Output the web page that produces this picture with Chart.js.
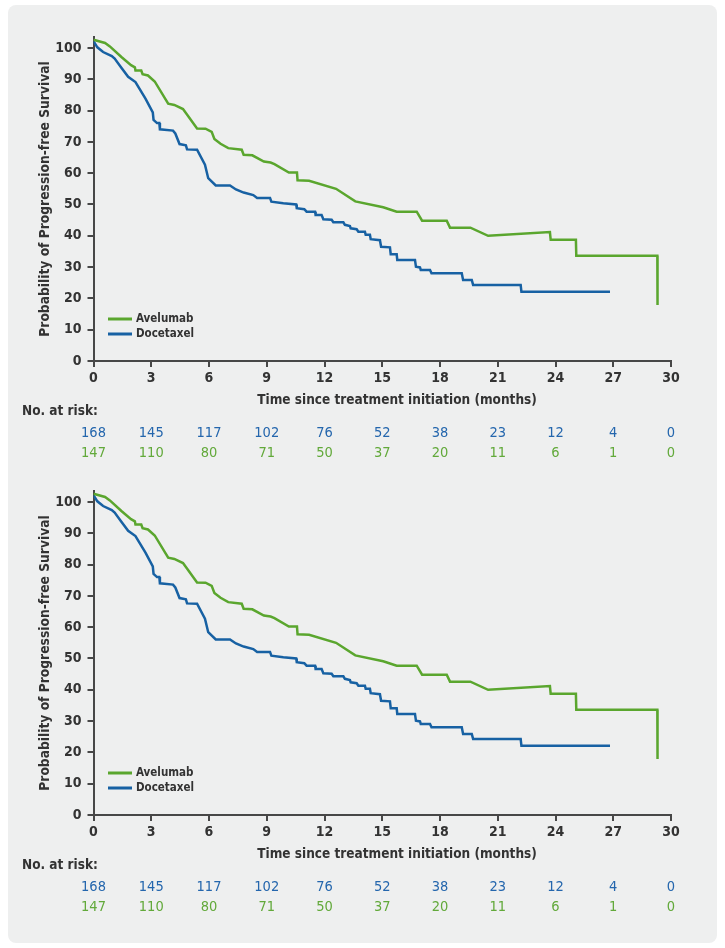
<!DOCTYPE html>
<html>
<head>
<meta charset="utf-8">
<script src="https://cdn.jsdelivr.net/npm/chart.js@4.4.1/dist/chart.umd.min.js"></script>
<style>
html,body{margin:0;padding:0;background:#fff;}
#panel{position:absolute;left:8px;top:5px;width:709px;height:938px;background:#eeefef;border-radius:8px;}
.wrap{position:absolute;left:0;width:725px;height:470px;}
</style>
</head>
<body>
<div id="panel"></div>
<div class="wrap" style="top:0"><canvas id="km1"></canvas></div>
<div class="wrap" style="top:454px"><canvas id="km2"></canvas></div>
<script>
// KM curves (months, % PFS)
const avelumabTime = [0,0.6,0.85,1.45,1.95,2.15,2.18,2.48,2.55,2.83,3.18,3.88,4.2,4.65,5.38,5.82,6.14,6.28,6.6,7.0,7.7,7.8,8.25,8.85,9.2,9.4,10.15,10.57,10.6,11.2,12.6,13.6,15.05,15.75,16.79,17.07,18.35,18.52,19.58,20.5,23.71,23.75,25.06,25.08,29.29,29.3];
const avelumabPfs  = [102.6,101.6,100.5,97.1,94.5,93.8,92.8,92.8,91.6,91.2,89.3,82.2,81.8,80.5,74.3,74.2,73.2,70.9,69.4,68,67.5,65.9,65.7,63.7,63.4,62.9,60.2,60.2,57.7,57.6,55,51,49.1,47.7,47.7,44.8,44.8,42.6,42.6,40,41.2,38.7,38.7,33.6,33.6,17.9];

const docetaxelTime = [0,0.2,0.5,0.95,1.1,1.4,1.8,2.18,2.7,3.08,3.12,3.3,3.42,3.45,4.13,4.25,4.47,4.8,4.86,5.38,5.79,5.96,6.35,7.09,7.4,7.8,8.3,8.5,9.17,9.24,9.86,10.53,10.56,10.95,11.07,11.51,11.54,11.85,11.94,12.37,12.46,12.98,13.06,13.32,13.36,13.67,13.76,14.1,14.14,14.36,14.4,14.88,14.94,15.4,15.44,15.75,15.78,16.7,16.75,16.96,17.0,17.48,17.56,19.13,19.2,19.65,19.72,22.19,22.23,26.83];
const docetaxelPfs  = [102.2,100.2,98.7,97.4,96.6,94.1,90.8,89.1,83.8,79.4,77,76,76,74,73.6,72.7,69.3,68.9,67.6,67.5,62.7,58.4,56.1,56.1,54.8,53.8,53,52.1,52.1,50.9,50.4,50,48.8,48.5,47.7,47.7,46.6,46.6,45.3,45.1,44.3,44.3,43.5,43.1,42.4,42.1,41.3,41.3,40.3,40.3,38.9,38.6,36.5,36.3,34.1,34.1,32.3,32.3,30.1,29.9,29.1,29.1,28,28,25.9,25.9,24.3,24.3,22.1,22.1];

const monthTicks = [0,3,6,9,12,15,18,21,24,27,30];
const riskDocetaxel = [168,145,117,102,76,52,38,23,12,4,0];
const riskAvelumab  = [147,110,80,71,50,37,20,11,6,1,0];

const GREEN = '#5aa62e';
const BLUE = '#1761a3';
const AXIS = '#474747';
const FONT = '"Liberation Sans Narrow","DejaVu Sans Condensed",Roboto,sans-serif';

function pts(t, v){ return t.map((x,i)=>({x:x, y:v[i]})); }

const extras = {
  id:'extras',
  afterDraw(chart){
    const ctx = chart.ctx, xs = chart.scales.x;
    ctx.save();
    // legend
    const ds = chart.data.datasets;
    [319,334].forEach((y,i)=>{
      ctx.strokeStyle = ds[i].borderColor; ctx.lineWidth = 3;
      ctx.beginPath(); ctx.moveTo(108,y); ctx.lineTo(132,y); ctx.stroke();
      ctx.fillStyle = '#333'; ctx.font = 'bold 11.5px '+FONT;
      ctx.textAlign='left'; ctx.textBaseline='middle';
      ctx.fillText(ds[i].label, 136, y);
    });
    // x title
    ctx.fillStyle = '#333'; ctx.font = 'bold 13.5px '+FONT;
    ctx.textAlign='center'; ctx.textBaseline='middle';
    ctx.fillText('Time since treatment initiation (months)', 397, 400);
    ctx.font = 'bold 13.5px '+FONT;
    ctx.textAlign='left';
    ctx.fillText('No. at risk:', 22, 411);
    // at-risk rows
    ctx.font = '14.5px '+FONT; ctx.textAlign='center';
    monthTicks.forEach((m,i)=>{
      const x = xs.getPixelForValue(m);
      ctx.fillStyle = '#2466ad'; ctx.fillText(String(riskDocetaxel[i]), x, 433);
      ctx.fillStyle = '#62a93a'; ctx.fillText(String(riskAvelumab[i]), x, 453);
    });
    ctx.restore();
  }
};

function makeChart(id){
  return new Chart(document.getElementById(id), {
    type:'line',
    data:{ datasets:[
      {label:'Avelumab', data:pts(avelumabTime, avelumabPfs), borderColor:GREEN, borderWidth:2.5, pointRadius:0, tension:0, fill:false},
      {label:'Docetaxel', data:pts(docetaxelTime, docetaxelPfs), borderColor:BLUE, borderWidth:2.5, pointRadius:0, tension:0, fill:false}
    ]},
    options:{
      responsive:true, maintainAspectRatio:false, animation:false,
      layout:{padding:{left:0, right:54, top:37, bottom:79}},
      plugins:{legend:{display:false}, tooltip:{enabled:false}},
      scales:{
        x:{ type:'linear', min:0, max:30,
          ticks:{stepSize:3, color:'#333', font:{family:FONT, size:14, weight:'bold'}, padding:3, maxRotation:0},
          grid:{drawOnChartArea:false, drawTicks:true, tickLength:6, color:AXIS, lineWidth:2},
          border:{display:true, color:AXIS, width:2},
          afterFit(s){ s.height = 30; } },
        y:{ type:'linear', min:0, max:103.5,
          ticks:{stepSize:10, includeBounds:false, color:'#333', font:{family:FONT, size:14, weight:'bold'}, padding:6},
          grid:{drawOnChartArea:false, drawTicks:true, tickLength:6, color:AXIS, lineWidth:2},
          border:{display:true, color:AXIS, width:2},
          title:{display:true, text:'Probability of Progression-free Survival', color:'#333', font:{family:FONT, size:13.7, weight:'bold'}, padding:{top:37, bottom:0}},
          afterFit(s){ s.width = 93.5; } }
      }
    },
    plugins:[extras]
  });
}
makeChart('km1');
makeChart('km2');
</script>
</body>
</html>
